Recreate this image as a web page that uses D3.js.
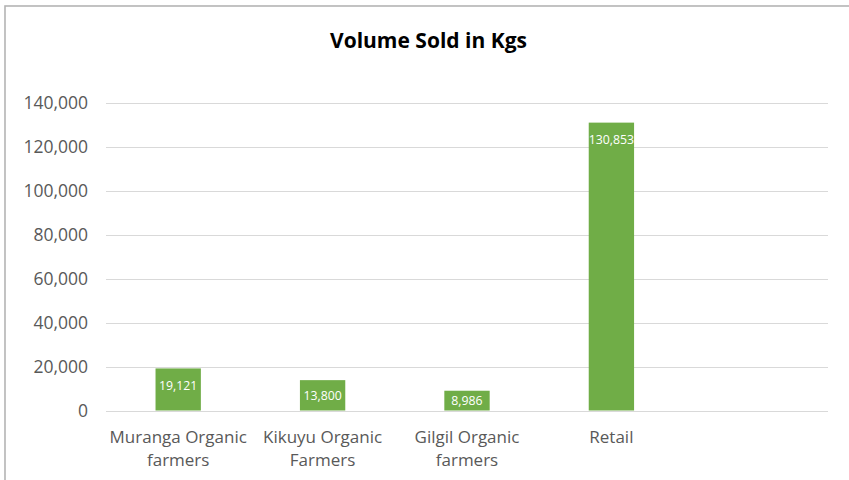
<!DOCTYPE html>
<html>
<head>
<meta charset="utf-8">
<script src="https://cdn.jsdelivr.net/npm/d3@7"></script>
<style>
  html, body { margin: 0; padding: 0; background: #ffffff; }
  svg { display: block; }
</style>
</head>
<body>
<svg id="chart" width="849" height="480"></svg>
<script>
// Volume sold per sales channel, in kilograms
const categories = [
  ["Muranga Organic", "farmers"],
  ["Kikuyu Organic", "Farmers"],
  ["Gilgil Organic", "farmers"],
  ["Retail"],
  [""]
];
const volumes = [19121, 13800, 8986, 130853, null];
const yTicks = [0, 20000, 40000, 60000, 80000, 100000, 120000, 140000];

const W = 849, H = 480;
const plot = { left: 106, right: 828, top: 102.5, bottom: 410.5 };
const font = "'Open Sans', 'Noto Sans', sans-serif";

const svg = d3.select("#chart");

// chart frame (extends past the right and bottom edges)
svg.append("rect")
  .attr("x", 5).attr("y", 6)
  .attr("width", W + 20).attr("height", H + 20)
  .attr("fill", "#ffffff")
  .attr("stroke", "#b4b4b4")
  .attr("stroke-width", 1.6);

// title
svg.append("text")
  .attr("x", 428.5).attr("y", 47.5)
  .attr("text-anchor", "middle")
  .attr("font-family", font)
  .attr("font-weight", 700)
  .attr("font-size", 21)
  .attr("fill", "#000000")
  .text("Volume Sold in Kgs");

const x = d3.scaleBand()
  .domain(d3.range(categories.length))
  .range([plot.left, plot.right])
  .paddingInner(0.686)
  .paddingOuter(0.343);

const y = d3.scaleLinear()
  .domain([0, 140000])
  .range([plot.bottom, plot.top]);

// horizontal gridlines
svg.append("g")
  .selectAll("line")
  .data(yTicks)
  .join("line")
  .attr("x1", plot.left).attr("x2", plot.right)
  .attr("y1", d => Math.round(y(d)) + 0.5)
  .attr("y2", d => Math.round(y(d)) + 0.5)
  .attr("stroke", "#d9d9d9")
  .attr("stroke-width", 1.2);

// y axis labels
const yAxis = d3.axisLeft(y)
  .tickValues(yTicks)
  .tickFormat(d3.format(","))
  .tickSize(0)
  .tickPadding(0);
const gy = svg.append("g")
  .attr("transform", "translate(88,0)")
  .call(yAxis);
gy.select(".domain").remove();
gy.selectAll("text")
  .attr("font-family", font)
  .attr("font-size", 17.5)
  .attr("fill", "#595959")
  .attr("dy", "0.35em");

// bars
const barData = volumes.map((v, i) => ({ i, v })).filter(d => d.v != null);
svg.append("g")
  .selectAll("rect")
  .data(barData)
  .join("rect")
  .attr("x", d => x(d.i))
  .attr("width", x.bandwidth())
  .attr("y", d => y(d.v))
  .attr("height", d => y(0) - y(d.v))
  .attr("fill", "#70ad47");

// value labels inside the bar end (centred in short bars)
svg.append("g")
  .selectAll("text")
  .data(barData)
  .join("text")
  .attr("x", d => x(d.i) + x.bandwidth() / 2)
  .attr("y", d => Math.min(y(d.v) + 17.5, (y(d.v) + y(0)) / 2))
  .attr("dy", "0.35em")
  .attr("text-anchor", "middle")
  .attr("font-family", font)
  .attr("font-size", 12.3)
  .attr("fill", "#ffffff")
  .text(d => d3.format(",")(d.v));

// category labels
const xl = svg.append("g")
  .selectAll("text")
  .data(categories.map((c, i) => ({ c, i })))
  .join("text")
  .attr("x", d => x(d.i) + x.bandwidth() / 2)
  .attr("y", 437.5)
  .attr("text-anchor", "middle")
  .attr("font-family", font)
  .attr("font-size", 17)
  .attr("fill", "#595959");
xl.selectAll("tspan")
  .data(d => d.c.map((line, k) => ({ line, k, cx: x(d.i) + x.bandwidth() / 2 })))
  .join("tspan")
  .attr("x", t => t.cx)
  .attr("dy", t => t.k === 0 ? "0.35em" : "23px")
  .text(t => t.line);
</script>
</body>
</html>
